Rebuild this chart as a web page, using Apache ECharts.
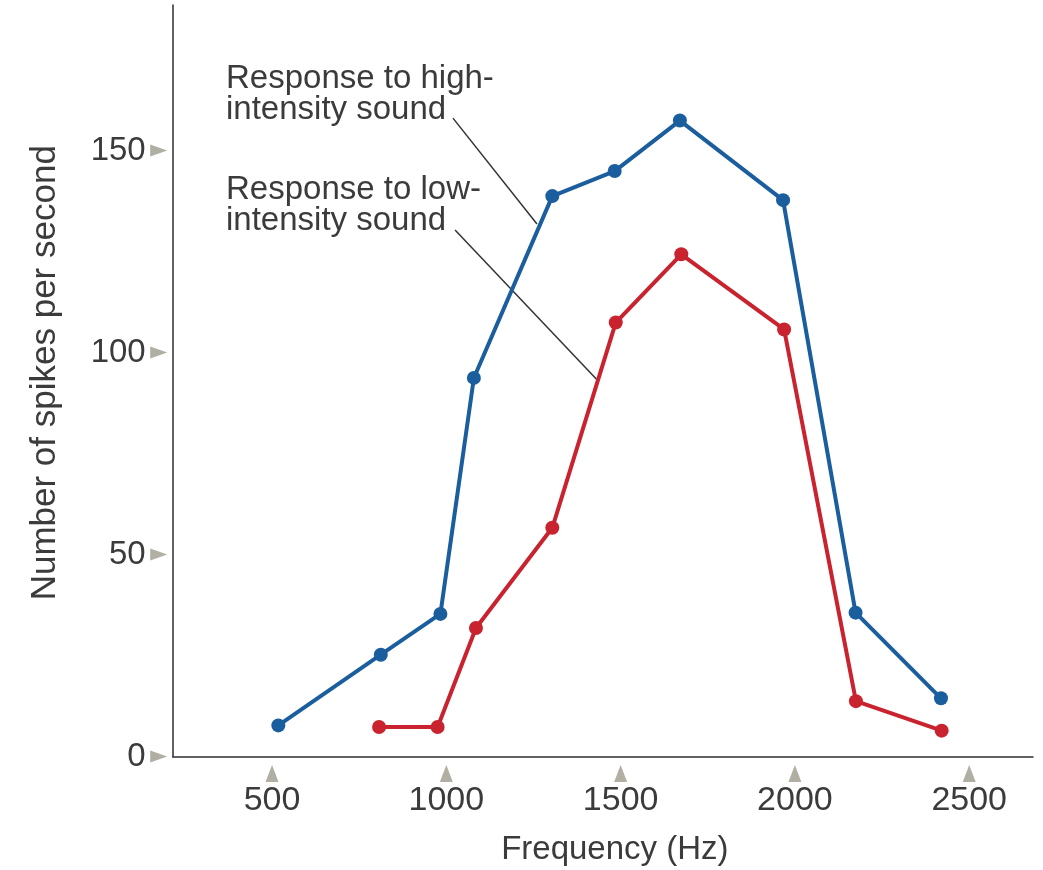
<!DOCTYPE html>
<html>
<head>
<meta charset="utf-8">
<title>Frequency tuning of an auditory neuron</title>
<script src="https://cdn.jsdelivr.net/npm/echarts@6/dist/echarts.min.js"></script>
<style>
  html, body { margin: 0; padding: 0; background: #ffffff; }
  #chart { width: 1043px; height: 870px; }
</style>
</head>
<body>
<div id="chart"></div>
<script>
// Firing rate of one neuron vs. tone frequency, at two sound intensities
const freqHigh   = [518, 812, 983, 1079, 1304, 1483, 1670, 1966, 2174, 2419];
const spikesHigh = [7.7, 25.2, 35.3, 93.7, 138.7, 144.9, 157.4, 137.7, 35.6, 14.4];
const freqLow    = [807, 975, 1085, 1304, 1486, 1674, 1969, 2175, 2421];
const spikesLow  = [7.3, 7.3, 31.8, 56.6, 107.4, 124.3, 105.7, 13.7, 6.4];

const xTicks = [500, 1000, 1500, 2000, 2500];
const yTicks = [0, 50, 100, 150];

// Callout text and where each leader line runs (data coordinates)
const highNote = 'Response to high-\nintensity sound';
const lowNote  = 'Response to low-\nintensity sound';
const highLeader = [[1019, 158.0], [1260, 131.8]];
const lowLeader  = [[1025, 130.3], [1435, 93.0]];

const X_MIN = 215, X_MAX = 2683, Y_MIN = 0, Y_MAX = 186;

const BLUE = '#1b5e9e';
const RED = '#c8232e';
const INK = '#3b3b3b';
const TICK = '#9d9b8c';
const FONT = '"Liberation Sans", Arial, Helvetica, sans-serif';

const pair = (xs, ys) => xs.map((x, i) => [x, ys[i]]);

const chart = echarts.init(document.getElementById('chart'), null, { renderer: 'canvas' });

chart.setOption({
  animation: false,
  backgroundColor: '#ffffff',
  textStyle: { fontFamily: FONT },
  grid: {
    left: 172.7, right: 10, top: 5, bottom: 113.5,
    containLabel: false,
    outerBoundsMode: 'none'
  },
  xAxis: {
    type: 'value',
    min: X_MIN, max: X_MAX,
    name: 'Frequency (Hz)',
    nameLocation: 'middle',
    nameGap: 76,
    nameTextStyle: { fontSize: 33, color: INK, fontFamily: FONT, lineHeight: 34, padding: [0, 0, 0, 24] },
    axisLine: { show: true, lineStyle: { color: '#2e2e2e', width: 1.5 } },
    axisTick: { show: false },
    splitLine: { show: false },
    axisLabel: {
      customValues: xTicks,
      formatter: v => String(v),
      fontSize: 34, lineHeight: 34, color: INK, fontFamily: FONT,
      margin: 27
    }
  },
  yAxis: {
    type: 'value',
    min: Y_MIN, max: Y_MAX,
    name: 'Number of spikes per second',
    nameLocation: 'middle',
    nameGap: 109,
    nameTextStyle: { fontSize: 35, color: INK, fontFamily: FONT, lineHeight: 36, padding: [0, 0, 0, 16] },
    axisLine: { show: true, lineStyle: { color: '#2e2e2e', width: 1.5 } },
    axisTick: { show: false },
    splitLine: { show: false },
    axisLabel: {
      customValues: yTicks,
      formatter: v => String(v),
      fontSize: 33, color: INK, fontFamily: FONT,
      margin: 27
    }
  },
  graphic: [
    {
      type: 'text', left: 226, top: 62, z: 10,
      style: { text: highNote, fontSize: 33, lineHeight: 31, fill: INK, fontFamily: FONT }
    },
    {
      type: 'text', left: 226, top: 173, z: 10,
      style: { text: lowNote, fontSize: 33, lineHeight: 31, fill: INK, fontFamily: FONT }
    }
  ],
  series: [
    {
      name: 'High-intensity leader',
      type: 'line',
      data: highLeader,
      symbol: 'none',
      lineStyle: { color: '#333333', width: 1.5 },
      silent: true, z: 1
    },
    {
      name: 'Low-intensity leader',
      type: 'line',
      data: lowLeader,
      symbol: 'none',
      lineStyle: { color: '#333333', width: 1.5 },
      silent: true, z: 1
    },
    {
      name: 'High intensity',
      type: 'line',
      data: pair(freqHigh, spikesHigh),
      symbol: 'circle',
      symbolSize: 14,
      lineStyle: { color: BLUE, width: 4 },
      itemStyle: { color: BLUE },
      z: 3
    },
    {
      name: 'Low intensity',
      type: 'line',
      data: pair(freqLow, spikesLow),
      symbol: 'circle',
      symbolSize: 14,
      lineStyle: { color: RED, width: 4 },
      itemStyle: { color: RED },
      z: 3
    },
    {
      // upward triangles under the frequency axis, one per tick
      name: 'x tick marks',
      type: 'scatter',
      data: xTicks.map(v => [v, Y_MIN]),
      symbol: 'triangle',
      symbolSize: [13, 17],
      symbolOffset: [0, 17],
      itemStyle: { color: TICK },
      clip: false, silent: true, z: 2
    },
    {
      // right-pointing triangles left of the spike-rate axis
      name: 'y tick marks',
      type: 'scatter',
      data: yTicks.map(v => [X_MIN, v]),
      symbol: 'triangle',
      symbolSize: [12, 17],
      symbolRotate: -90,
      symbolOffset: [-14, 0],
      itemStyle: { color: TICK },
      clip: false, silent: true, z: 2
    }
  ]
});
</script>
</body>
</html>
